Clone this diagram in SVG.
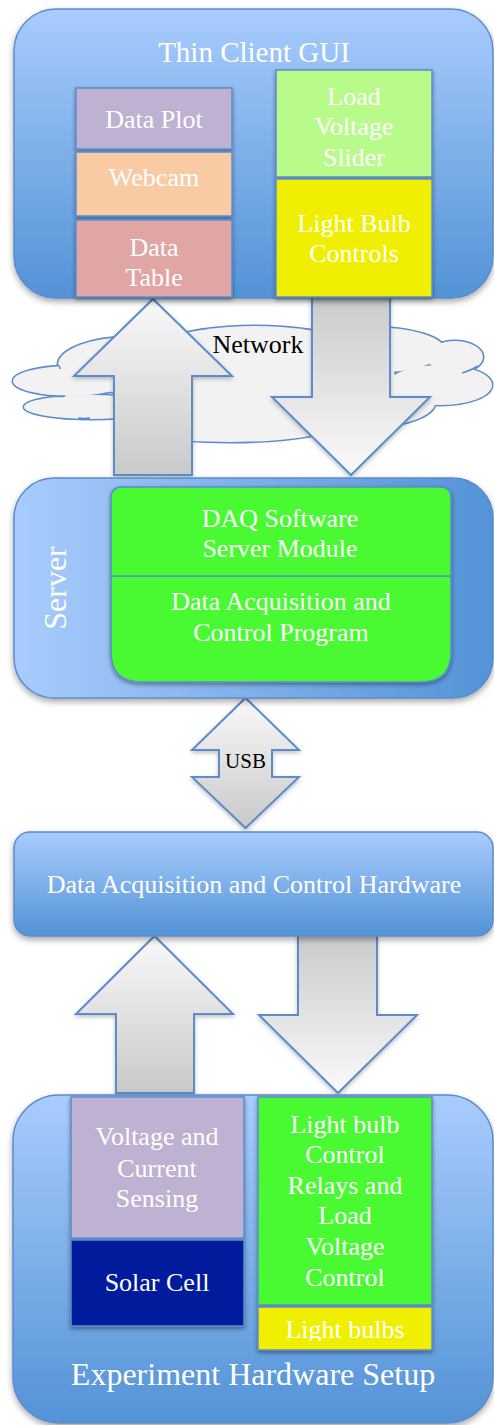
<svg xmlns="http://www.w3.org/2000/svg" width="494" height="1425" viewBox="0 0 494 1425">
<defs>
<linearGradient id="gv" x1="0" y1="0" x2="0" y2="1"><stop offset="0" stop-color="#a9ccfd"/><stop offset="1" stop-color="#5393d6"/></linearGradient>
<linearGradient id="gh" x1="0" y1="0" x2="1" y2="0"><stop offset="0" stop-color="#a9ccfd"/><stop offset="1" stop-color="#5393d6"/></linearGradient>
<linearGradient id="gup" x1="0" y1="0" x2="0" y2="1"><stop offset="0" stop-color="#f9f9f9"/><stop offset="1" stop-color="#c9c9c9"/></linearGradient>
<linearGradient id="gdn" x1="0" y1="0" x2="0" y2="1"><stop offset="0" stop-color="#c9c9c9"/><stop offset="1" stop-color="#fafafa"/></linearGradient>
<filter id="sh" x="-10%" y="-10%" width="120%" height="130%"><feDropShadow dx="0" dy="2" stdDeviation="2" flood-color="#000" flood-opacity="0.4"/></filter>
<filter id="csh" x="-5%" y="-5%" width="110%" height="115%"><feDropShadow dx="0" dy="3" stdDeviation="3" flood-color="#000" flood-opacity="0.35"/></filter>
<filter id="ash" x="-10%" y="-10%" width="120%" height="130%"><feDropShadow dx="0" dy="2" stdDeviation="2" flood-color="#000" flood-opacity="0.25"/></filter>
<clipPath id="lbclip"><rect x="258" y="1300" width="176" height="41"/></clipPath>
</defs>
<g id="network">
  <g fill="none" stroke="#5b8ccb" stroke-width="3">
    <ellipse cx="255" cy="378" rx="140" ry="52"/>
    <ellipse cx="130" cy="365" rx="72" ry="28"/>
    <ellipse cx="70" cy="381" rx="57" ry="15"/>
    <ellipse cx="92" cy="407" rx="68" ry="12"/>
    <ellipse cx="230" cy="421" rx="115" ry="21"/>
    <ellipse cx="345" cy="403" rx="90" ry="27"/>
    <ellipse cx="370" cy="350" rx="75" ry="23"/>
    <ellipse cx="455" cy="357" rx="28" ry="16"/>
    <ellipse cx="440" cy="385" rx="52" ry="20"/>
  </g>
  <g fill="#f2f2f2">
    <ellipse cx="255" cy="378" rx="140" ry="52"/>
    <ellipse cx="130" cy="365" rx="72" ry="28"/>
    <ellipse cx="70" cy="381" rx="57" ry="15"/>
    <ellipse cx="92" cy="407" rx="68" ry="12"/>
    <ellipse cx="230" cy="421" rx="115" ry="21"/>
    <ellipse cx="345" cy="403" rx="90" ry="27"/>
    <ellipse cx="370" cy="350" rx="75" ry="23"/>
    <ellipse cx="455" cy="357" rx="28" ry="16"/>
    <ellipse cx="440" cy="385" rx="52" ry="20"/>
  </g>
  <g fill="none" stroke="#5b8ccb" stroke-width="1.5">
    <path d="M57,364 q3,2 3,5"/>
    <path d="M50,396 q8,1 15,0"/>
    <path d="M78,418 q6,1 12,0"/>
    <path d="M478,366 q-8,5 -16,7"/>
  </g>
  <text x="258" y="353" font-size="26" font-family="Liberation Serif" text-anchor="middle" fill="#000000">Network</text>
</g>

<g id="connectors" stroke="#5b8ccb" stroke-width="2" filter="url(#ash)">
  <polygon fill="url(#gup)" points="153,299 232,376 192,376 192,475 114,475 114,376 74,376"/>
  <polygon fill="url(#gdn)" points="312,290 390,290 390,397 430,397 351,475 272,397 312,397"/>
  <polygon fill="url(#gup)" points="245.5,698 299,750 272,750 272,777 299,777 245.5,828 192,777 219,777 219,750 192,750"/>
  <polygon fill="url(#gup)" points="154.5,936 233,1014 194,1014 194,1093 116,1093 116,1014 76,1014"/>
  <polygon fill="url(#gdn)" points="298,930 377,930 377,1015 417,1015 338,1093 259,1015 298,1015"/>
</g>
<text id="usb-label" x="245.5" y="768" font-size="21" font-family="Liberation Serif" text-anchor="middle" fill="#000000">USB</text>

<g id="thin-client-gui">
  <rect x="14" y="9" width="479" height="289" rx="42" fill="url(#gv)" stroke="#5b8ccb" stroke-width="1.5" filter="url(#csh)"/>
  <text x="254" y="62" font-size="29" font-family="Liberation Serif" text-anchor="middle" fill="#ffffff">Thin Client GUI</text>
  <g stroke="#5b8ccb" stroke-width="1.5" filter="url(#sh)">
    <rect id="data-table" x="76" y="220" width="156" height="77" fill="#e0a6a5"/>
    <rect id="webcam" x="76" y="152" width="156" height="64" fill="#f9cba4"/>
    <rect id="data-plot" x="76" y="88" width="156" height="61" fill="#bfb1d1"/>
    <rect id="light-bulb-controls" x="276" y="179" width="156" height="118" fill="#f1ef00"/>
    <rect id="load-voltage-slider" x="276" y="70" width="156" height="107" fill="#b8fb8a"/>
  </g>
  <g text-anchor="middle" fill="#ffffff">
    <text x="154" y="256" font-size="26" font-family="Liberation Serif">Data</text>
    <text x="154" y="286" font-size="26" font-family="Liberation Serif">Table</text>
    <text x="154" y="186" font-size="26" font-family="Liberation Serif">Webcam</text>
    <text x="154" y="128" font-size="26" font-family="Liberation Serif">Data Plot</text>
    <text x="354" y="232" font-size="26" font-family="Liberation Serif">Light Bulb</text>
    <text x="354" y="262" font-size="26" font-family="Liberation Serif">Controls</text>
    <text x="354" y="105" font-size="26" font-family="Liberation Serif">Load</text>
    <text x="354" y="135" font-size="26" font-family="Liberation Serif">Voltage</text>
    <text x="354" y="166" font-size="26" font-family="Liberation Serif">Slider</text>
  </g>
</g>

<g id="server">
  <rect x="14" y="478" width="479" height="220" rx="40" fill="url(#gh)" stroke="#5b8ccb" stroke-width="1.5" filter="url(#csh)"/>
  <text transform="translate(66,588) rotate(-90)" font-size="32" font-family="Liberation Serif" text-anchor="middle" fill="#ffffff">Server</text>
  <g stroke="#5b8ccb" stroke-width="1.5" filter="url(#sh)" fill="#48fa30">
    <path id="daq-program" d="M111,576 H451 V652 Q451,682 421,682 H141 Q111,682 111,652 Z"/>
    <path id="daq-server-module" d="M111,576 V498 Q111,487 122,487 H440 Q451,487 451,498 V576 Z"/>
  </g>
  <g text-anchor="middle" fill="#ffffff">
    <text x="281" y="610" font-size="26" font-family="Liberation Serif">Data Acquisition and</text>
    <text x="281" y="641" font-size="26" font-family="Liberation Serif">Control Program</text>
    <text x="280" y="527" font-size="26" font-family="Liberation Serif">DAQ Software</text>
    <text x="280" y="557" font-size="26" font-family="Liberation Serif">Server Module</text>
  </g>
</g>

<g id="daq-hardware">
  <rect x="14" y="832" width="479" height="104" rx="16" fill="url(#gv)" stroke="#5b8ccb" stroke-width="1.5" filter="url(#csh)"/>
  <text x="254" y="893" font-size="26" font-family="Liberation Serif" text-anchor="middle" fill="#ffffff">Data Acquisition and Control Hardware</text>
</g>

<g id="experiment-hardware">
  <rect x="13" y="1095" width="480" height="328" rx="46" fill="url(#gv)" stroke="#5b8ccb" stroke-width="1.5" filter="url(#csh)"/>
  <text x="253" y="1385" font-size="32" font-family="Liberation Serif" text-anchor="middle" fill="#ffffff">Experiment Hardware Setup</text>
  <g stroke="#5b8ccb" stroke-width="1.5" filter="url(#sh)">
    <rect id="solar-cell" x="71" y="1240" width="173" height="86" fill="#021a9c"/>
    <rect id="voltage-sensing" x="71" y="1097" width="173" height="141" fill="#bfb1d1"/>
    <rect id="light-bulbs" x="258" y="1307" width="174" height="43" fill="#f1ef00"/>
    <rect id="relays" x="258" y="1097" width="174" height="208" fill="#48fa30"/>
  </g>
  <g text-anchor="middle" fill="#ffffff">
    <text x="157" y="1291" font-size="26" font-family="Liberation Serif">Solar Cell</text>
    <text x="157" y="1145" font-size="26" font-family="Liberation Serif">Voltage and</text>
    <text x="157" y="1177" font-size="26" font-family="Liberation Serif">Current</text>
    <text x="157" y="1207" font-size="26" font-family="Liberation Serif">Sensing</text>
    <text x="345" y="1338" font-size="26" clip-path="url(#lbclip)" font-family="Liberation Serif">Light bulbs</text>
    <text x="345" y="1133" font-size="26" font-family="Liberation Serif">Light bulb</text>
    <text x="345" y="1163" font-size="26" font-family="Liberation Serif">Control</text>
    <text x="345" y="1194" font-size="26" font-family="Liberation Serif">Relays and</text>
    <text x="345" y="1224" font-size="26" font-family="Liberation Serif">Load</text>
    <text x="345" y="1255" font-size="26" font-family="Liberation Serif">Voltage</text>
    <text x="345" y="1286" font-size="26" font-family="Liberation Serif">Control</text>
  </g>
</g>
</svg>
